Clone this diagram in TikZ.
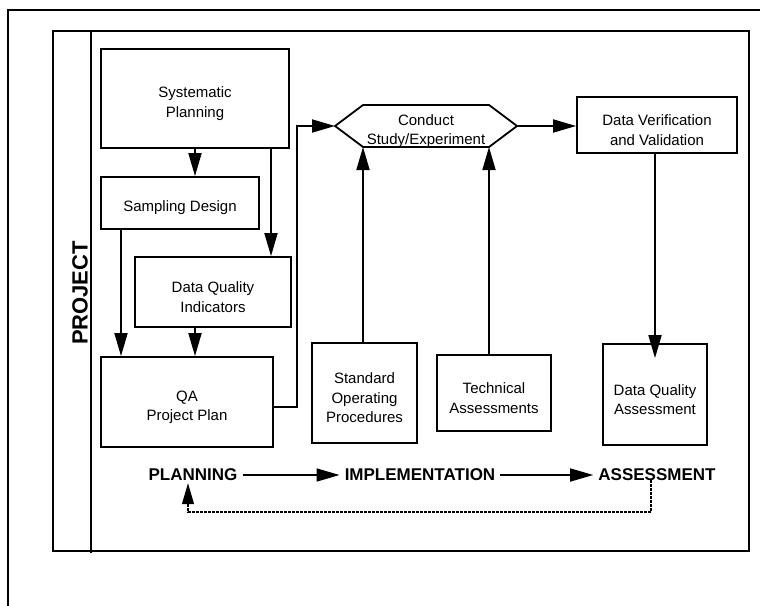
\documentclass[tikz,border=0pt]{standalone}
\usepackage{fontspec}
\setmainfont{Liberation Sans}
\usetikzlibrary{arrows.meta,calc}
\newcommand\myboxstrut{\rule{0pt}{21pt}}
\begin{document}
\begin{tikzpicture}[x=1pt,y=-1pt,
  boxtext/.style={align=center,inner sep=0pt,font=\fontsize{15}{19.5}\selectfont},
  box/.style={draw,line width=1.8pt,boxtext},
  arr/.style={line width=1.8pt,-{Triangle[length=23pt,width=13pt]}},
  phase/.style={font=\fontsize{17}{20}\selectfont\bfseries,inner sep=5pt},
  framestyle/.style={line width=1.8pt},
  fb/.style={line width=1.3pt,dash pattern=on 3pt off 1pt,-{Triangle[length=21pt,width=12pt]}}]
\useasboundingbox (0,0) rectangle (760,605);
% frames
\draw[framestyle] (8,610) -- (8,10) -- (765,10);
\draw[framestyle] (53,31) rectangle (749,551);
\draw[framestyle] (91,31) -- (91,553);
\node[rotate=90,font=\fontsize{22}{24}\selectfont\bfseries] (proj) at (80,293) {PROJECT};
% boxes
\node[box,minimum width=188pt,minimum height=99pt] (sp) at (195,98.5) {\myboxstrut Systematic\\Planning};
\node[box,minimum width=158pt,minimum height=52pt] (sd) at (180,203) {\myboxstrut Sampling Design};
\node[box,minimum width=156pt,minimum height=70pt] (dqi) at (213,292) {\myboxstrut Data Quality\\Indicators};
\node[box,minimum width=172pt,minimum height=90pt] (qa) at (187,402) {\myboxstrut QA\\Project Plan};
\node[box,minimum width=160pt,minimum height=56pt] (dvv) at (657,125) {\myboxstrut Data Verification\\and Validation};
\node[box,minimum width=104pt,minimum height=101pt] (dqa) at (655,394.5) {\myboxstrut Data Quality\\Assessment};
\node[box,minimum width=114pt,minimum height=76pt] (ta) at (494,393) {\myboxstrut Technical\\Assessments};
\node[box,minimum width=105pt,minimum height=100pt] (sop) at (364.5,393) {\myboxstrut Standard\\Operating\\Procedures};
% hexagon
\node[boxtext] (hex) at (426,126) {\myboxstrut Conduct\\Study/Experiment};
\coordinate (hexL) at (335,126);
\coordinate (hexTL) at (363,105);
\coordinate (hexTR) at (489,105);
\coordinate (hexR) at (517,126);
\coordinate (hexBR) at (489,147);
\coordinate (hexBL) at (363,147);
\draw[line width=1.8pt,line join=miter] (hexL) -- (hexTL) -- (hexTR) -- (hexR) -- (hexBR) -- (hexBL) -- cycle;
% helper coordinates
\coordinate (cA) at (195,0);
\coordinate (cB) at (271,0);
\coordinate (cC) at (121,0);
\coordinate (cD) at (297,126);
\coordinate (cE) at (655,0);
% connectors
\draw[arr] (sp.south -| cA) -- (sd.north -| cA);
\draw[arr] (sp.south -| cB) -- (dqi.north -| cB);
\draw[arr] (sd.south -| cC) -- (qa.north -| cC);
\draw[arr] (dqi.south -| cA) -- (qa.north -| cA);
\draw[arr] ($(qa.east)+(0,5)$) -| (cD) -- (hexL);
\draw[arr] (hexR) -- (hexR -| dvv.west);
\draw[arr] (dvv.south -| cE) -- ($(dqa.north -| cE)+(0,15)$);
\draw[arr] (ta.north -| hexBR) -- (hexBR);
\draw[arr] (sop.north -| hexBL) -- (hexBL);
% phases
\node[phase] (plan) at (193,475) {PLANNING};
\node[phase] (impl) at (420,475) {IMPLEMENTATION};
\node[phase] (asmt) at (657,475) {ASSESSMENT};
\draw[arr,line width=1.6pt] (plan.east) -- (impl.west);
\draw[arr,line width=1.6pt] (impl.east) -- (asmt.west);
\coordinate (fbR) at (651,512);
\coordinate (fbL) at (188,512);
\draw[fb] ($(asmt.south -| fbR)+(0,-6)$) -- (fbR) -- (fbL) -- ($(plan.south -| fbL)+(0,-3)$);
\end{tikzpicture}
\end{document}
